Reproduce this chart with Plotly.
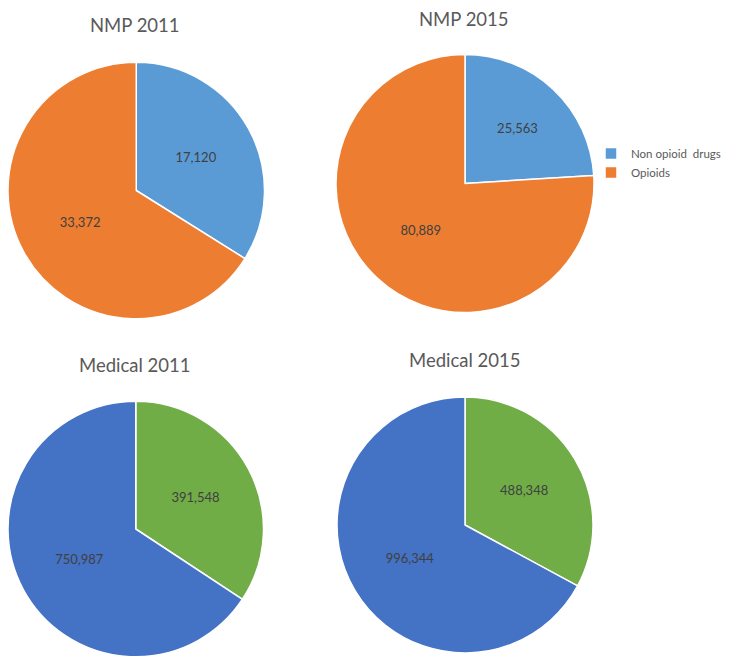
import plotly.graph_objects as go

# page body has an 8px default margin; figure pixel coords = screen coords - 8
OFF = 8
W, H = 726, 649

labels = ["Non opioid  drugs", "Opioids"]
nmp_2011 = [17120, 33372]
nmp_2015 = [25563, 80889]
medical_2011 = [391548, 750987]
medical_2015 = [488348, 996344]
titles = ["NMP 2011", "NMP 2015", "Medical 2011", "Medical 2015"]

nmp_colors = ["#5B9BD5", "#ED7D31"]
med_colors = ["#70AD47", "#4472C4"]

# layout in screen px: (center x, center y, radius)
geo = [(135.5, 190.5, 129), (465, 183.5, 129), (135.5, 529, 128), (465, 525, 128)]
title_pos = [(135, 25), (464, 18.5), (135, 365), (464.5, 360)]


def px(x, y):
    return (x - OFF) / W, 1 - (y - OFF) / H


def dom(cx, cy, r):
    x0, y1 = px(cx - r, cy - r)
    x1, y0 = px(cx + r, cy + r)
    return dict(x=[max(0, x0), min(1, x1)], y=[max(0, y0), min(1, y1)])


fig = go.Figure()
series = [nmp_2011, nmp_2015, medical_2011, medical_2015]
for i, vals in enumerate(series):
    cols = nmp_colors if i < 2 else med_colors
    fig.add_trace(go.Pie(
        labels=labels, values=vals, sort=False, direction="clockwise", rotation=0,
        marker=dict(colors=cols, line=dict(color="white", width=1.5)),
        texttemplate="%{value:,}", textposition="inside", insidetextorientation="horizontal",
        textfont=dict(color="#404040", size=13, family="Lato"),
        domain=dom(*geo[i]), showlegend=True,
        legend="legend" if i < 2 else "legend2",
        hoverinfo="label+value+percent",
    ))

for t, (x, y) in zip(titles, title_pos):
    ax, ay = px(x, y)
    fig.add_annotation(text=t, x=ax, y=ay, xref="paper", yref="paper",
                       showarrow=False, xanchor="center", yanchor="middle",
                       font=dict(size=18.5, color="#595959", family="Lato"))

leg = dict(xanchor="left", yanchor="middle", font=dict(size=11.5, color="#595959", family="Lato"),
           bgcolor="rgba(0,0,0,0)", itemclick=False, itemwidth=30, borderwidth=0)
lx1, ly1 = px(591, 163)
lx2, ly2 = px(591, 504)
fig.update_layout(
    width=W, height=H, margin=dict(l=0, r=0, t=0, b=0),
    paper_bgcolor="white", plot_bgcolor="white",
    legend=dict(x=lx1, y=ly1, **leg),
    legend2=dict(x=lx2, y=ly2, **leg),
)

fig.write_html("out.html")
